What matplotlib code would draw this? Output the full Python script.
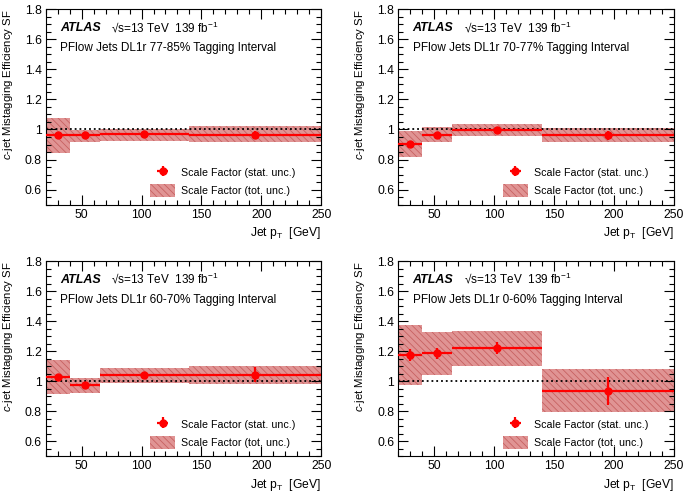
import numpy as np
import matplotlib.pyplot as plt
from matplotlib.patches import Patch
from matplotlib.ticker import MultipleLocator

plt.rcParams['font.family'] = ['Liberation Sans', 'DejaVu Sans']
plt.rcParams['hatch.linewidth'] = 0.6
plt.rcParams['mathtext.fontset'] = 'custom'
plt.rcParams['mathtext.rm'] = 'Liberation Sans'
plt.rcParams['mathtext.it'] = 'Liberation Sans:italic'

# pT bins and bin-centre positions (GeV)
bin_edges = [20, 40, 65, 140, 250]
pt_centres = [30, 52.5, 102, 195]

intervals = ["77-85%", "70-77%", "60-70%", "0-60%"]

# scale factors per interval
sf_77_85 = [0.962, 0.962, 0.967, 0.966]
sf_70_77 = [0.905, 0.965, 0.995, 0.963]
sf_60_70 = [1.031, 0.972, 1.040, 1.042]
sf_0_60 = [1.176, 1.185, 1.218, 0.935]

# statistical uncertainties
stat_77_85 = [0.010, 0.010, 0.010, 0.022]
stat_70_77 = [0.010, 0.010, 0.010, 0.030]
stat_60_70 = [0.012, 0.012, 0.012, 0.050]
stat_0_60 = [0.040, 0.035, 0.040, 0.092]

# total uncertainty band (low, high)
tot_lo_77_85 = [0.846, 0.914, 0.925, 0.914]
tot_hi_77_85 = [1.079, 0.998, 1.000, 1.020]
tot_lo_70_77 = [0.815, 0.914, 0.954, 0.914]
tot_hi_70_77 = [0.991, 1.018, 1.035, 1.013]
tot_lo_60_70 = [0.918, 0.924, 0.985, 0.981]
tot_hi_60_70 = [1.143, 1.023, 1.090, 1.104]
tot_lo_0_60 = [0.972, 1.038, 1.099, 0.793]
tot_hi_0_60 = [1.377, 1.326, 1.333, 1.082]

sfs = [sf_77_85, sf_70_77, sf_60_70, sf_0_60]
stats = [stat_77_85, stat_70_77, stat_60_70, stat_0_60]
tot_lo = [tot_lo_77_85, tot_lo_70_77, tot_lo_60_70, tot_lo_0_60]
tot_hi = [tot_hi_77_85, tot_hi_70_77, tot_hi_60_70, tot_hi_0_60]

band_face = (0.88, 0.58, 0.58)
band_hatch = (0.78, 0.38, 0.38)
red = (1.0, 0.0, 0.0)

fig = plt.figure(figsize=(6.85, 4.95), dpi=100)
W, H = 685, 495
boxes = [(45.7, 9.3), (398.3, 9.3), (45.7, 261.0), (398.3, 261.0)]
aw, ah = 275.5, 195.3

edges = np.array(bin_edges)
lo_e, hi_e = edges[:-1], edges[1:]
widths = hi_e - lo_e

for i, (x0, y0) in enumerate(boxes):
    ax = fig.add_axes([x0 / W, 1 - (y0 + ah) / H, aw / W, ah / H])
    x = np.array(pt_centres)
    lo = np.array(tot_lo[i]); hi = np.array(tot_hi[i])
    ax.bar(lo_e, hi - lo, width=widths, bottom=lo, align='edge',
           color=band_face, edgecolor=band_hatch, linewidth=0,
           hatch='\\\\\\\\\\', zorder=1)
    ax.axhline(1.0, color='k', ls=':', lw=1.3, zorder=2)
    h_stat = ax.errorbar(x, sfs[i], yerr=stats[i], xerr=[x - lo_e, hi_e - x],
                         fmt='o', color=red, ms=5, lw=1.6, capsize=0,
                         zorder=3)

    ax.set_xlim(20, 250)
    ax.set_ylim(0.5, 1.8)
    ax.set_xticks([50, 100, 150, 200, 250])
    ax.set_yticks([0.6, 0.8, 1.0, 1.2, 1.4, 1.6, 1.8])
    ax.set_yticklabels(["0.6", "0.8", "1", "1.2", "1.4", "1.6", "1.8"])
    ax.xaxis.set_minor_locator(MultipleLocator(10))
    ax.yaxis.set_minor_locator(MultipleLocator(0.05))
    ax.tick_params(which='both', direction='in', top=True, right=True,
                   labelsize=8.7, width=0.8, color='k', pad=3)
    ax.tick_params(which='major', length=7)
    ax.tick_params(which='minor', length=3.5)
    for s in ax.spines.values():
        s.set_linewidth(0.8)

    ax.set_ylabel(r"$\it{c}$-jet Mistagging Efficiency SF", fontsize=8.2,
                  loc='top', labelpad=7)
    ax.set_xlabel(r"Jet p$_{\rm T}$  [GeV]", fontsize=8.7, loc='right',
                  labelpad=3)

    ax.text(0.052, 0.905, "ATLAS", transform=ax.transAxes, fontsize=9,
            fontweight='bold', fontstyle='italic', va='center')
    ax.text(0.237, 0.905, "√s=13 TeV  139 fb$^{-1}$",
            transform=ax.transAxes, fontsize=8.5, va='center')
    ax.text(0.052, 0.80, f"PFlow Jets DL1r {intervals[i]} Tagging Interval",
            transform=ax.transAxes, fontsize=8.5, va='center')

    h_tot = Patch(facecolor=band_face, edgecolor=band_hatch, linewidth=0,
                  hatch='\\\\\\\\\\')
    ax.legend([h_stat, h_tot],
              ["Scale Factor (stat. unc.)", "Scale Factor (tot. unc.)"],
              loc='lower left', bbox_to_anchor=(0.345, -0.01), frameon=False,
              fontsize=7.7, handlelength=2.3, handleheight=1.5,
              labelspacing=0.45, handletextpad=0.6)

fig.savefig("out.png", dpi=100)
